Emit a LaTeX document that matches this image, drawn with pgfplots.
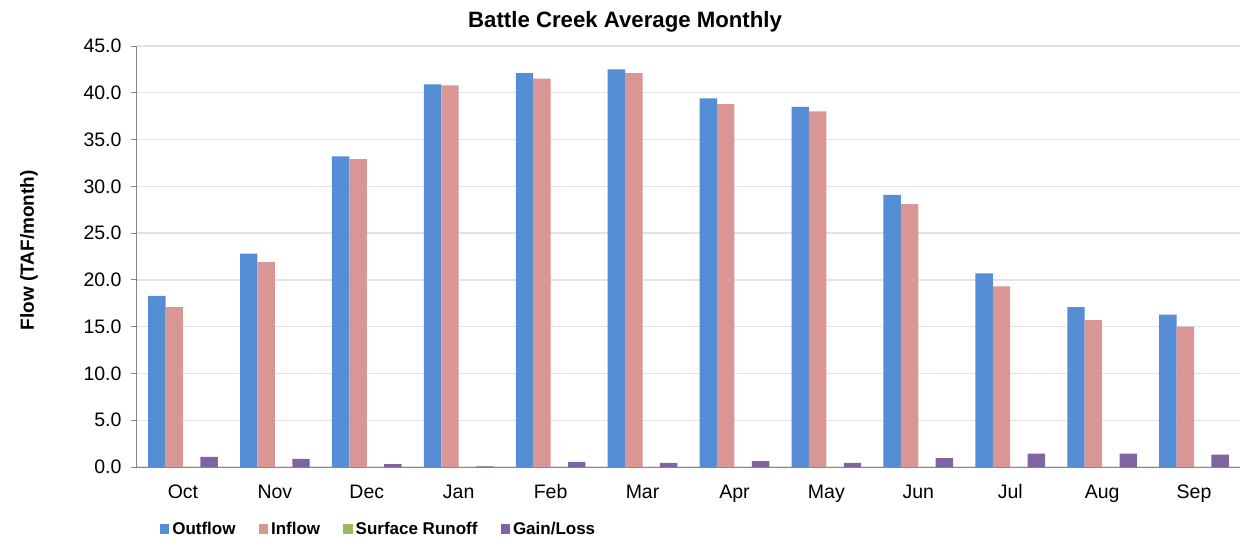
\documentclass[border=0pt]{standalone}
\usepackage{fontspec}
\setmainfont{Liberation Sans}
\usepackage{pgfplots}
\pgfplotsset{compat=1.18}
\definecolor{cOut}{HTML}{558ED5}
\definecolor{cIn}{HTML}{D99694}
\definecolor{cSR}{HTML}{9BBB59}
\definecolor{cGL}{HTML}{8064A2}
\definecolor{cAx}{HTML}{868686}
\definecolor{cGrid}{HTML}{E3E3E3}
\begin{document}
\begin{tikzpicture}
\useasboundingbox (-137pt,-74pt) rectangle (1109pt,467pt);
\begin{axis}[
  at={(0pt,0pt)}, anchor=south west,
  scale only axis, width=1103pt, height=421pt,
  ybar=0pt, bar width=17.4pt,
  xmin=-0.5, xmax=11.5, ymin=0, ymax=45,
  xtick={0,...,11},
  xticklabels={Oct,Nov,Dec,Jan,Feb,Mar,Apr,May,Jun,Jul,Aug,Sep},
  major x tick style={draw=none},
  extra x ticks={-0.5,0.5,...,11.5},
  extra x tick labels={},
  extra x tick style={major tick length=7pt, tick align=outside, tick style={draw=cAx, line width=0.8pt}, grid=none},
  ytick={0,5,...,45},
  yticklabel style={xshift=-6pt, /pgf/number format/.cd, fixed, fixed zerofill, precision=1, assume math mode=true},
  xticklabel style={anchor=base, yshift=-25pt},
  tick label style={font=\fontsize{19.5}{21}\selectfont, text=black},
  ytick style={draw=cAx, line width=0.8pt},
  major tick length=6pt, tick align=outside,
  ymajorgrids, grid style={draw=cGrid, line width=1.4pt},
  axis x line*=bottom, axis y line*=left,
  axis line style={draw=cAx, line width=1pt},
  every axis title shift=0pt,
  title={\bfseries Battle Creek Average Monthly},
  title style={font=\fontsize{22.2}{24}\selectfont, at={(axis description cs:0.4425,1.057)}, anchor=center},
  ylabel={\bfseries Flow (TAF/month)},
  ylabel style={font=\fontsize{19}{21}\selectfont, at={(axis description cs:-0.098,0.515)}, anchor=center, rotate=0},
  legend columns=4,
  legend style={at={(axis description cs:0.0205,-0.147)}, anchor=west, draw=none, fill=none,
    font=\bfseries\fontsize{17}{19}\selectfont, inner sep=0pt,
    /tikz/every even column/.append style={column sep=21pt},
    /tikz/every odd column/.append style={column sep=1pt}},
  legend image code/.code={\fill[#1] (0pt,-5pt) rectangle (9.5pt,5pt);},
  legend cell align=left,
]
\addplot[fill=cOut, draw=none] coordinates {(0,18.3) (1,22.8) (2,33.2) (3,40.9) (4,42.1) (5,42.5) (6,39.4) (7,38.5) (8,29.1) (9,20.7) (10,17.1) (11,16.3)};
\addplot[fill=cIn, draw=none] coordinates {(0,17.1) (1,21.9) (2,32.9) (3,40.8) (4,41.5) (5,42.1) (6,38.8) (7,38.0) (8,28.1) (9,19.3) (10,15.7) (11,15.0)};
\addplot[fill=cSR, draw=none] coordinates {(0,0) (1,0) (2,0) (3,0) (4,0) (5,0) (6,0) (7,0) (8,0) (9,0) (10,0) (11,0)};
\addplot[fill=cGL, draw=none] coordinates {(0,1.07) (1,0.86) (2,0.32) (3,0.08) (4,0.54) (5,0.43) (6,0.64) (7,0.43) (8,0.96) (9,1.43) (10,1.43) (11,1.32)};
\legend{Outflow,Inflow,Surface Runoff,Gain/Loss}
\end{axis}
\end{tikzpicture}
\end{document}
